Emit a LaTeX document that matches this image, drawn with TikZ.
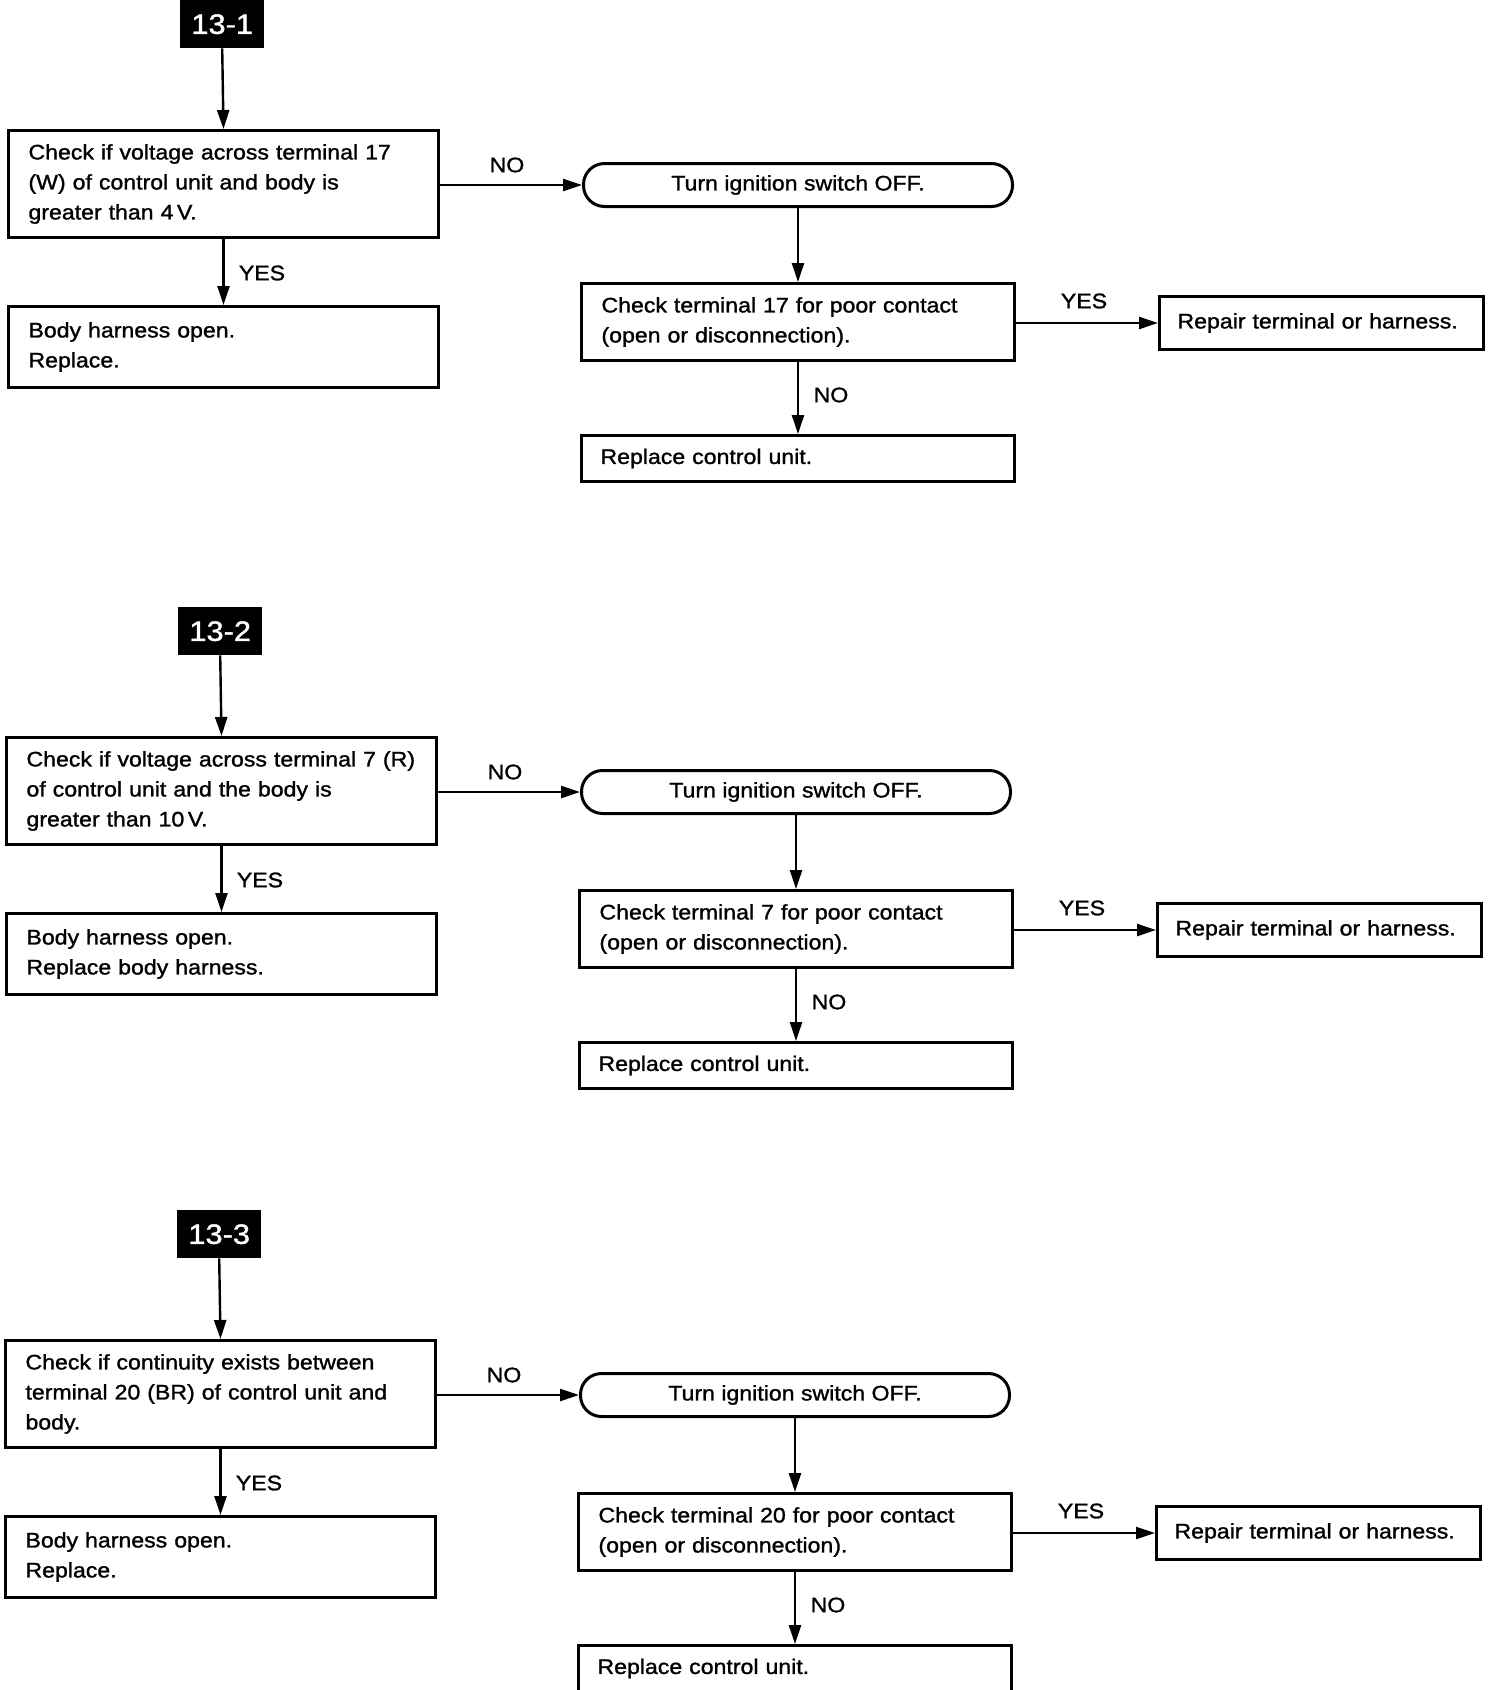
\documentclass[tikz,border=0pt]{standalone}
\usepackage{fontspec}
\setmainfont{Liberation Sans}
\newfontfamily\bodyfont[FakeStretch=1.1,FakeBold=1.3]{Liberation Sans}
\usetikzlibrary{arrows.meta}
\tikzset{
  every node/.style={font=\bodyfont\fontsize{21}{30}\selectfont},
  flowbox/.style={draw, line width=3pt, anchor=north west, inner ysep=0pt, inner xsep=20pt, align=left},
  termbox/.style={draw, line width=3pt, anchor=north west, inner sep=0pt, rounded corners=21pt, align=center},
  badgebox/.style={fill=black, text=white, anchor=north west, inner sep=0pt,
    minimum width=84pt, minimum height=48pt, font=\bodyfont\fontsize{28}{30}\selectfont},
  flowarrow/.style={line width=2.4pt, -{Triangle[length=19pt,width=12pt]}},
  lbl/.style={inner sep=0pt}
}
\newcommand\flowpart[7]{%
\begin{scope}[shift={(#2,#3)}]
  \node[badgebox] (badge#1) at (180,0) {#4};
  \node[flowbox, minimum width=430pt, text width=390pt, minimum height=107pt] (a#1) at (7,129) {#5};
  \node[flowbox, minimum width=430pt, text width=390pt, minimum height=81pt] (b#1) at (7,305) {#6};
  \node[termbox, minimum width=429pt, minimum height=43pt] (t#1) at (582,162) {Turn ignition switch OFF.};
  \node[flowbox, minimum width=433pt, text width=393pt, minimum height=77pt] (c#1) at (580,282)
    {Check terminal #7 for poor contact\\(open or disconnection).};
  \node[flowbox, minimum width=324pt, text width=288pt, inner xsep=18pt, minimum height=53pt] (r#1) at (1158,295)
    {Repair terminal or harness.};
  \node[flowbox, minimum width=433pt, text width=395pt, inner xsep=19pt, minimum height=46pt] (p#1) at (580,434)
    {Replace control unit.};
  \node[lbl] (noa#1) at (507,165) {NO};
  \node[lbl] (yesa#1) at (262,273) {YES};
  \node[lbl] (yesb#1) at (1084,301) {YES};
  \node[lbl] (nob#1) at (831,395) {NO};
  \draw[flowarrow] (badge#1.south) -- (a#1.north);
  \draw[flowarrow] (a#1.south) -- (b#1.north);
  \draw[flowarrow] (a#1.east |- t#1.west) -- (t#1.west);
  \draw[flowarrow] (t#1.south) -- (c#1.north);
  \draw[flowarrow] (c#1.east |- r#1.west) -- (r#1.west);
  \draw[flowarrow] (c#1.south) -- (p#1.north);
\end{scope}}
\begin{document}
\begin{tikzpicture}[x=1pt,y=-1pt]
\useasboundingbox (0,0) rectangle (1504,1690);
\flowpart{1}{0}{0}{13-1}
  {Check if voltage across terminal 17\\(W) of control unit and body is\\greater than 4\,V.}
  {Body harness open.\\Replace.}{17}
\flowpart{2}{-2}{607}{13-2}
  {Check if voltage across terminal 7 (R)\\of control unit and the body is\\greater than 10\,V.}
  {Body harness open.\\Replace body harness.}{7}
\flowpart{3}{-3}{1210}{13-3}
  {Check if continuity exists between\\terminal 20 (BR) of control unit and\\body.}
  {Body harness open.\\Replace.}{20}
\end{tikzpicture}
\end{document}
